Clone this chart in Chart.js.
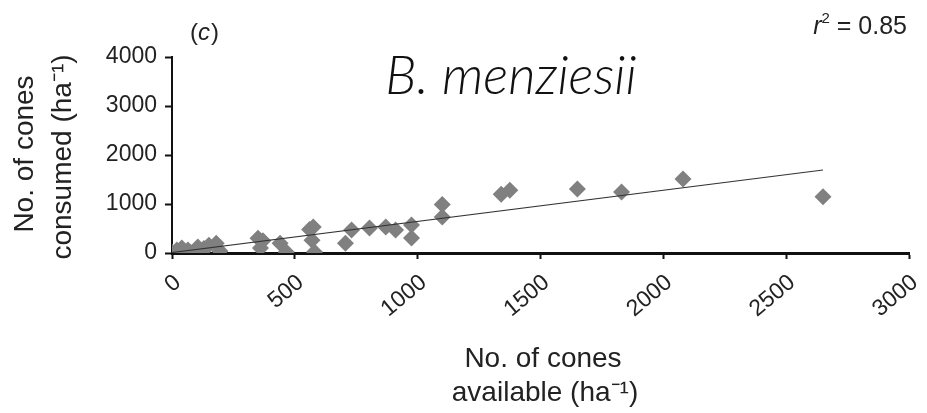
<!DOCTYPE html>
<html>
<head>
<meta charset="utf-8">
<script src="https://cdn.jsdelivr.net/npm/chart.js@4/dist/chart.umd.min.js"></script>
<style>
  html, body { margin: 0; padding: 0; background: #fff; }
  #wrap { width: 927px; height: 413px; position: relative; }
</style>
</head>
<body>
<div id="wrap"><canvas id="c" width="927" height="413"></canvas></div>
<script>
// Data
const conesAvailable = [0, 20, 40, 65, 80, 105, 130, 150, 180, 195, 350, 360, 370, 440, 465, 560, 570, 575, 580, 706, 731, 804, 870, 910, 975, 975, 1100, 1100, 1340, 1375, 1650, 1830, 2080, 2650];
const conesConsumed  = [20, 60, 100, 60, 0, 120, 90, 160, 200, 40, 300, 100, 250, 200, 20, 480, 260, 531, 20, 200, 470, 510, 530, 470, 571, 306, 990, 735, 1200, 1280, 1306, 1245, 1510, 1150];
const fitX = [0, 2650];
const fitY = [10, 1694];
const xTicks = [0, 500, 1000, 1500, 2000, 2500, 3000];
const yTicks = [0, 1000, 2000, 3000, 4000];
const speciesLabel = "B. menziesii";
const xTitle = ["No. of cones", "available (ha\u207B\u00B9)"];
const yTitle = ["No. of cones", "consumed (ha\u207B\u00B9)"];

const scatterPts = conesAvailable.map((x, i) => ({x: x, y: conesConsumed[i]}));
const fitPts = fitX.map((x, i) => ({x: x, y: fitY[i]}));

const SANS = "'Liberation Sans', Arial, sans-serif";

const textPlugin = {
  id: 'texts',
  afterDraw(chart) {
    const ctx = chart.ctx;
    ctx.save();
    ctx.fillStyle = '#222';
    ctx.textBaseline = 'alphabetic';
    // panel label "(c)"
    ctx.textAlign = 'left';
    let x = 190;
    const by = 40;
    ctx.font = "24px " + SANS;
    ctx.fillText("(", x, by); x += ctx.measureText("(").width;
    ctx.font = "italic 24px " + SANS;
    ctx.fillText("c", x, by); x += ctx.measureText("c").width + 1;
    ctx.font = "24px " + SANS;
    ctx.fillText(")", x, by);
    // r^2 = 0.85, right-aligned at 907
    ctx.textAlign = 'right';
    ctx.font = "25px " + SANS;
    const eq = " = 0.85";
    const wEq = ctx.measureText(eq).width;
    ctx.fillText(eq, 907, 34);
    ctx.font = "15px " + SANS;
    const w2 = ctx.measureText("2").width;
    ctx.fillText("2", 907 - wEq, 23);
    ctx.font = "italic 25px " + SANS;
    ctx.fillText("r", 907 - wEq - w2, 34);
    // species label, fit to reference width
    ctx.fillStyle = '#111';
    ctx.textAlign = 'center';
    ctx.textBaseline = 'middle';
    ctx.font = "italic 300 40px Lato, 'Open Sans', sans-serif";
    const mw = ctx.measureText(speciesLabel).width;
    const fs = Math.round(40 * 250 / mw);
    ctx.font = "italic 300 " + fs + "px Lato, 'Open Sans', sans-serif";
    ctx.fillText(speciesLabel, 511, 77);
    // x title
    ctx.fillStyle = '#222';
    ctx.font = "28px " + SANS;
    ctx.fillText(xTitle[0], 543, 359);
    ctx.fillText(xTitle[1], 545, 393);
    // y title
    ctx.save();
    ctx.translate(25, 154);
    ctx.rotate(-Math.PI / 2);
    ctx.fillText(yTitle[0], 0, 0);
    ctx.restore();
    ctx.save();
    ctx.translate(63, 157);
    ctx.rotate(-Math.PI / 2);
    ctx.fillText(yTitle[1], 0, 0);
    ctx.restore();
    ctx.restore();
  }
};

new Chart(document.getElementById('c'), {
  type: 'scatter',
  data: {
    datasets: [
      {
        type: 'line',
        data: fitPts,
        borderColor: '#333',
        borderWidth: 1.2,
        pointRadius: 0,
        fill: false,
        order: 1
      },
      {
        data: scatterPts,
        pointStyle: 'rectRot',
        pointRadius: 8.5,
        backgroundColor: '#808080',
        borderColor: '#808080',
        borderWidth: 0,
        order: 2
      }
    ]
  },
  options: {
    responsive: false,
    animation: false,
    devicePixelRatio: 1,
    layout: { padding: { left: 0, top: 57, right: 18, bottom: 0 } },
    plugins: { legend: { display: false }, tooltip: { enabled: false } },
    scales: {
      x: {
        type: 'linear',
        min: 0, max: 3000,
        afterBuildTicks(s) { s.ticks = xTicks.map(v => ({value: v})); },
        afterFit(s) { s.height = 160; s.paddingLeft = 0; s.paddingRight = 0; },
        grid: { drawOnChartArea: false, drawTicks: true, tickLength: 6, color: '#111', tickWidth: 2 },
        border: { display: true, color: '#111', width: 3 },
        ticks: {
          color: '#222',
          font: { family: SANS, size: 23 },
          minRotation: 40, maxRotation: 40,
          padding: 10,
          labelOffset: 6,
          autoSkip: false,
          callback: (v) => String(v)
        }
      },
      y: {
        type: 'linear',
        min: 0, max: 4000,
        afterBuildTicks(s) { s.ticks = yTicks.map(v => ({value: v})); },
        afterFit(s) { s.width = 172; s.paddingTop = 0; s.paddingBottom = 0; },
        grid: { drawOnChartArea: false, drawTicks: true, tickLength: 7, color: '#111', tickWidth: 2 },
        border: { display: true, color: '#111', width: 2 },
        ticks: {
          color: '#222',
          font: { family: SANS, size: 23 },
          padding: 8,
          autoSkip: false,
          callback: (v) => String(v)
        }
      }
    }
  },
  plugins: [textPlugin]
});
</script>
</body>
</html>
